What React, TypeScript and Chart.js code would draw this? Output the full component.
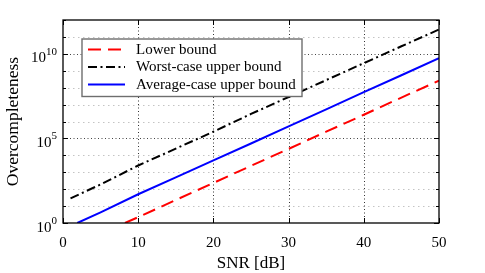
import { useEffect, useRef } from "react";
import { Chart, registerables } from "chart.js";

Chart.register(...registerables);

const SERIES_LABELS = ["Lower bound", "Worst-case upper bound", "Average-case upper bound"];
const SERIES_COLORS = ["#ff0000", "#000000", "#0000ff"];

const lowerX = [8.24, 10, 15, 20, 25, 30, 35, 40, 45, 50];
const lowerY = [1, 2.2, 23, 234, 2.4e3, 2.4e4, 2.5e5, 2.5e6, 2.6e7, 2.6e8];

const worstX = [1, 5, 10, 15, 20, 25, 30, 35, 40, 45, 50];
const worstY = [28.8, 190, 2.5e3, 2.5e4, 2.5e5, 2.8e6, 2.8e7, 2.8e8, 2.8e9, 2.8e10, 2.75e11];

const avgX = [1.9, 5, 10, 15, 20, 25, 30, 35, 40, 45, 50];
const avgY = [1, 4.3, 50, 500, 5.0e3, 5.0e4, 5.2e5, 5.2e6, 5.4e7, 5.4e8, 5.5e9];

const X_TICKS = [0, 10, 20, 30, 40, 50];
const Y_DECADES = [0, 1, 2, 3, 4, 5, 6, 7, 8, 9, 10, 11, 12];
const Y_LABEL_EXPONENTS = [0, 5, 10];

const X_TITLE = "SNR [dB]";
const Y_TITLE = "Overcompleteness";

const SERIF = "'Liberation Serif', 'DejaVu Serif', serif";
const DASHES: number[][] = [[13, 7], [9, 3.5, 2, 3.5], []];

function toPoints(xs: number[], ys: number[]) {
  return xs.map((x, i) => ({ x, y: ys[i] }));
}

const decorPlugin = {
  id: "decor",
  beforeDatasetsDraw(chart: any) {
    const { ctx, chartArea: a, scales } = chart;
    const xs = scales.x;
    const ys = scales.y;
    ctx.save();
    ctx.lineWidth = 1;
    Y_DECADES.forEach((k) => {
      const y = Math.round(ys.getPixelForValue(Math.pow(10, k))) + 0.5;
      if (k === 0 || k === 12) return;
      const major = k % 5 === 0;
      ctx.strokeStyle = major ? "#444" : "#c4c4c4";
      ctx.setLineDash(major ? [1, 2.5] : [1.5, 3.5]);
      ctx.beginPath();
      ctx.moveTo(a.left, y);
      ctx.lineTo(a.right, y);
      ctx.stroke();
    });
    X_TICKS.forEach((v) => {
      if (v === X_TICKS[0] || v === X_TICKS[X_TICKS.length - 1]) return;
      const x = Math.round(xs.getPixelForValue(v)) + 0.5;
      ctx.strokeStyle = "#333";
      ctx.setLineDash([1, 2.5]);
      ctx.beginPath();
      ctx.moveTo(x, a.top);
      ctx.lineTo(x, a.bottom);
      ctx.stroke();
    });
    ctx.restore();
  },
  afterDraw(chart: any) {
    const { ctx, chartArea: a, scales } = chart;
    const xs = scales.x;
    const ys = scales.y;
    ctx.save();
    ctx.setLineDash([]);
    ctx.strokeStyle = "#000";
    ctx.lineWidth = 1.3;
    ctx.strokeRect(a.left, a.top, a.right - a.left, a.bottom - a.top);

    ctx.lineWidth = 1;
    X_TICKS.forEach((v) => {
      const x = Math.round(xs.getPixelForValue(v)) + 0.5;
      ctx.beginPath();
      ctx.moveTo(x, a.bottom);
      ctx.lineTo(x, a.bottom - 5);
      ctx.moveTo(x, a.top);
      ctx.lineTo(x, a.top + 5);
      ctx.stroke();
    });
    Y_DECADES.forEach((k) => {
      const y = Math.round(ys.getPixelForValue(Math.pow(10, k))) + 0.5;
      const len = k % 5 === 0 ? 5 : 3;
      ctx.beginPath();
      ctx.moveTo(a.left, y);
      ctx.lineTo(a.left + len, y);
      ctx.moveTo(a.right, y);
      ctx.lineTo(a.right - len, y);
      ctx.stroke();
    });

    ctx.fillStyle = "#000";
    ctx.font = `15px ${SERIF}`;
    ctx.textAlign = "center";
    ctx.textBaseline = "alphabetic";
    X_TICKS.forEach((v) => {
      const x = xs.getPixelForValue(v);
      ctx.fillText(String(v), x, a.bottom + 24);
    });

    Y_LABEL_EXPONENTS.forEach((k) => {
      const y = ys.getPixelForValue(Math.pow(10, k));
      ctx.font = `15px ${SERIF}`;
      const wb = ctx.measureText("10").width;
      ctx.font = `11px ${SERIF}`;
      const we = ctx.measureText(String(k)).width;
      const right = a.left - 6;
      const start = right - wb - we;
      ctx.textAlign = "left";
      ctx.font = `15px ${SERIF}`;
      ctx.fillText("10", start, y + 8.5);
      ctx.font = `11px ${SERIF}`;
      ctx.fillText(String(k), start + wb, y + 1);
    });

    ctx.font = `17px ${SERIF}`;
    ctx.textAlign = "center";
    ctx.textBaseline = "alphabetic";
    ctx.fillText(X_TITLE, (a.left + a.right) / 2, 268);
    ctx.save();
    ctx.translate(18, (a.top + a.bottom) / 2);
    ctx.rotate(-Math.PI / 2);
    ctx.font = `17.5px ${SERIF}`;
    ctx.fillText(Y_TITLE, 0, 0);
    ctx.restore();

    const bx = 82, by = 39, bw = 220, bh = 57.5;
    ctx.fillStyle = "#fff";
    ctx.fillRect(bx, by, bw, bh);
    ctx.strokeStyle = "#6e6e6e";
    ctx.lineWidth = 1.4;
    ctx.strokeRect(bx, by, bw, bh);
    const rows = [49.5, 67, 84.5];
    SERIES_LABELS.forEach((label, i) => {
      const y = rows[i];
      ctx.strokeStyle = SERIES_COLORS[i];
      ctx.lineWidth = 2;
      ctx.setLineDash(DASHES[i]);
      ctx.beginPath();
      ctx.moveTo(88, y);
      ctx.lineTo(125, y);
      ctx.stroke();
      ctx.setLineDash([]);
      ctx.fillStyle = "#000";
      ctx.font = `15px ${SERIF}`;
      ctx.textAlign = "left";
      ctx.textBaseline = "middle";
      ctx.fillText(label, 136, y + 0.5);
    });
    ctx.restore();
  },
};

export default function App() {
  const canvasRef = useRef<HTMLCanvasElement | null>(null);

  useEffect(() => {
    document.body.style.margin = "0";
    const canvas = canvasRef.current;
    if (!canvas) return;
    const datasets = [
      toPoints(lowerX, lowerY),
      toPoints(worstX, worstY),
      toPoints(avgX, avgY),
    ].map((data, i) => ({
      label: SERIES_LABELS[i],
      data,
      borderColor: SERIES_COLORS[i],
      backgroundColor: SERIES_COLORS[i],
      borderWidth: 2,
      borderDash: DASHES[i],
      pointRadius: 0,
      tension: 0,
      fill: false,
    }));
    const chart = new Chart(canvas, {
      type: "line",
      data: { datasets },
      options: {
        animation: false,
        responsive: true,
        maintainAspectRatio: false,
        layout: { padding: { left: 0, top: 20, right: 46, bottom: 0 } },
        plugins: { legend: { display: false }, tooltip: { enabled: false } },
        scales: {
          x: {
            type: "linear",
            min: 0,
            max: 50,
            ticks: { display: false },
            grid: { display: false },
            border: { display: false },
            afterFit: (s: any) => {
              s.height = 50;
            },
          },
          y: {
            type: "logarithmic",
            min: 1,
            max: 1e12,
            ticks: { display: false },
            grid: { display: false },
            border: { display: false },
            afterFit: (s: any) => {
              s.width = 63;
            },
          },
        },
      } as any,
      plugins: [decorPlugin],
    });
    return () => chart.destroy();
  }, []);

  return (
    <div style={{ position: "fixed", left: 0, top: 0, width: 485, height: 273 }}>
      <canvas ref={canvasRef} />
    </div>
  );
}
